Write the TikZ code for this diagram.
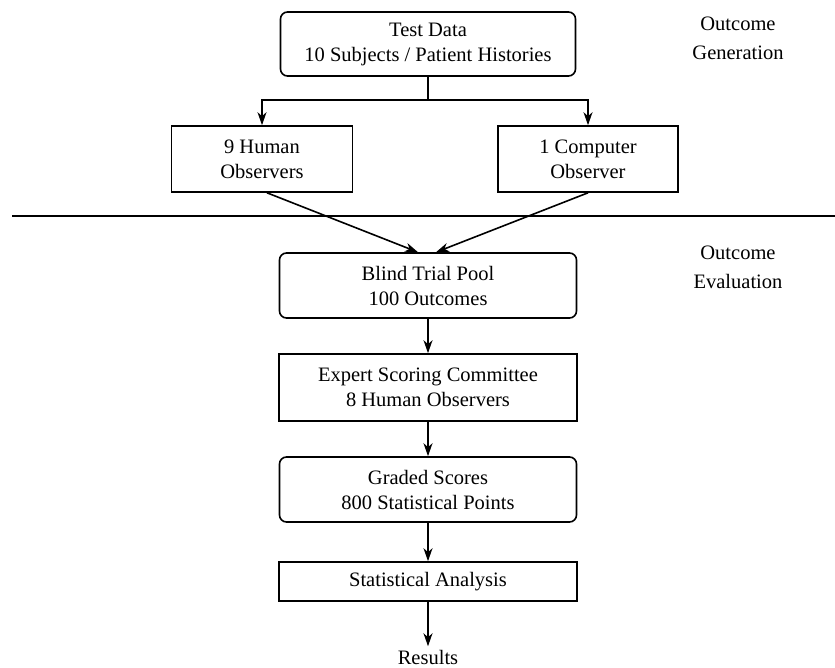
\documentclass[tikz,border=0pt]{standalone}
\usepackage{fontspec}
\setmainfont{Liberation Serif}
\newfontfamily\timesfont{Liberation Serif}
\usepackage{tikz}
\usetikzlibrary{arrows.meta}

\tikzset{
  box/.style={draw, line width=1.6pt, align=center, inner sep=0pt},
  roundbox/.style={box, rounded corners=7pt},
  link/.style={line width=1.6pt, -{Stealth[length=13pt,width=9pt,inset=4pt]}},
  phase/.style={align=center, font=\timesfont\fontsize{20.5}{29}\selectfont}
}

\begin{document}
\begin{tikzpicture}[x=1pt, y=-1pt, font=\timesfont\fontsize{20.5}{25}\selectfont]

\useasboundingbox (0,0) rectangle (835,667);

% outcome generation
\node[roundbox, minimum width=295pt, minimum height=64pt] (data) at (428,44)
  {Test Data\\10 Subjects / Patient Histories};
\node[box, minimum width=181pt, minimum height=66pt] (human) at (262,159)
  {9 Human\\Observers};
\node[box, minimum width=180pt, minimum height=66pt] (comp) at (588,159)
  {1 Computer\\Observer};
\coordinate (split) at (428,100);
\draw[line width=1.6pt] (data) -- (split);
\draw[link] (split) -| (human.north);
\draw[link] (split) -| (comp.north);

\node[phase] (gen) at (738,38) {Outcome\\Generation};

% separator
\coordinate (sepL) at (12,216);
\coordinate (sepR) at (835,216);
\draw[line width=1.6pt] (sepL) -- (sepR);

\node[phase] (eval) at (738,267) {Outcome\\Evaluation};

% outcome evaluation
\node[roundbox, minimum width=297pt, minimum height=65pt] (pool) at (428,285.5)
  {Blind Trial Pool\\100 Outcomes};
\node[box, minimum width=298pt, minimum height=67pt] (expert) at (428,387.5)
  {Expert Scoring Committee\\8 Human Observers};
\node[roundbox, minimum width=297pt, minimum height=65pt] (scores) at (428,489.5)
  {Graded Scores\\800 Statistical Points};
\node[box, minimum width=298pt, minimum height=39pt] (stats) at (428,581.5)
  {Statistical Analysis};
\node (results) at (428,657) {Results};

\draw[link] ([xshift=5pt]human.south) -- ([xshift=-10pt]pool.north);
\draw[link] (comp.south) -- ([xshift=8pt]pool.north);
\draw[link] (pool) -- (expert);
\draw[link] (expert) -- (scores);
\draw[link] (scores) -- (stats);
\draw[link] (stats) -- (results);

\end{tikzpicture}
\end{document}
